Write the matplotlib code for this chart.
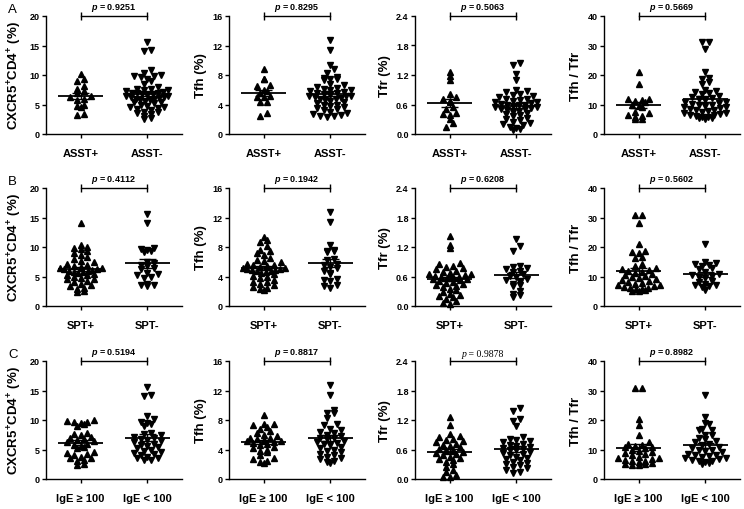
import matplotlib
matplotlib.use("Agg")
import matplotlib.pyplot as plt
import numpy as np

plt.rcParams["font.family"] = ["Liberation Sans", "DejaVu Sans"]
plt.rcParams["font.weight"] = "bold"
plt.rcParams["mathtext.fontset"] = "custom"
plt.rcParams["mathtext.rm"] = "Liberation Sans:bold"
plt.rcParams["mathtext.it"] = "Liberation Sans:bold:italic"
plt.rcParams["mathtext.bf"] = "Liberation Sans:bold"
plt.rcParams["axes.linewidth"] = 1.0

# ---- labels ----
row_letters = ["A", "B", "C"]
row_groups = [["ASST+", "ASST-"], ["SPT+", "SPT-"], ["IgE \u2265 100", "IgE < 100"]]
col_ylabels = ["CXCR5$^{+}$CD4$^{+}$ (%)", "Tfh (%)", "Tfr (%)", "Tfh / Tfr"]
col_ymax = [20, 16, 2.4, 40]
col_yticks = [[0, 5, 10, 15, 20], [0, 4, 8, 12, 16],
              [0.0, 0.6, 1.2, 1.8, 2.4], [0, 10, 20, 30, 40]]
col_ytick_fmt = ["{:.0f}", "{:.0f}", "{:.1f}", "{:.0f}"]
p_values = [["0.9251", "0.8295", "0.5063", "0.5669"],
            ["0.4112", "0.1942", "0.6208", "0.5602"],
            ["0.5194", "0.8817", "0.9878", "0.8982"]]

# ---- row A: ASST+ / ASST- ----
cxcr5_asst_pos = [10.2, 9.3, 9.0, 8.2, 7.6, 7.3, 7.0, 6.4, 6.2, 6.0, 5.8, 5.0, 4.7, 4.5, 3.4, 3.2]
cxcr5_asst_neg = [15.6, 14.3, 14.1, 10.8, 10.3, 10.0, 9.9, 9.8, 9.6, 9.4, 9.0, 8.4, 8.0, 7.7,
                  7.6, 7.5, 7.3, 7.1, 7.0, 6.9, 6.8, 6.7, 6.6, 6.5, 6.4, 6.2, 6.1, 6.0, 5.9,
                  5.8, 5.7, 5.6, 5.4, 5.2, 5.0, 4.8, 4.6, 4.5, 4.4, 4.2, 4.0, 3.8, 3.7, 3.5,
                  3.4, 3.0, 2.7, 2.5, 6.3, 6.9, 5.5, 7.4]
tfh_asst_pos = [8.8, 7.5, 7.4, 6.6, 6.5, 6.0, 5.8, 5.5, 5.2, 5.0, 5.0, 4.4, 4.3, 2.8, 2.5]
tfh_asst_neg = [12.7, 11.4, 9.4, 8.8, 8.3, 7.7, 7.6, 7.5, 7.4, 7.3, 6.8, 6.6, 6.4, 6.2, 6.0,
                5.9, 5.8, 5.7, 5.5, 5.4, 5.3, 5.2, 5.1, 5.0, 4.9, 4.8, 4.7, 4.5, 4.4, 4.2,
                4.0, 3.9, 3.8, 3.6, 3.5, 3.4, 3.2, 3.0, 2.8, 2.7, 2.6, 2.5, 2.4, 2.3,
                5.6, 5.2, 4.6, 6.1]
tfr_asst_pos = [1.26, 1.18, 1.10, 0.82, 0.75, 0.72, 0.68, 0.65, 0.55, 0.50, 0.42, 0.40,
                0.38, 0.30, 0.22, 0.15]
tfr_asst_neg = [1.45, 1.40, 1.22, 1.10, 0.90, 0.88, 0.85, 0.82, 0.80, 0.78, 0.75, 0.72,
                0.70, 0.68, 0.65, 0.63, 0.62, 0.60, 0.58, 0.56, 0.55, 0.52, 0.50, 0.48,
                0.47, 0.45, 0.42, 0.40, 0.38, 0.36, 0.33, 0.30, 0.28, 0.25, 0.22, 0.20,
                0.18, 0.15, 0.12, 0.10, 0.09, 0.60, 0.66, 0.54, 0.72, 0.50]
ratio_asst_pos = [21, 17, 12, 11.8, 11.5, 11.2, 10.8, 10, 9.5, 9, 7.5, 7, 6.5, 6, 5.8, 5.2, 5]
ratio_asst_neg = [31.3, 31.2, 28.7, 21, 19, 18.8, 17.5, 17, 15, 14.5, 14.3, 13.8, 13.5, 13,
                  12.5, 12.2, 12, 11.5, 11, 10.8, 10.5, 10.2, 10, 9.8, 9.5, 9.2, 9, 8.8,
                  8.5, 8.2, 8, 7.8, 7.5, 7.2, 7, 6.8, 6.5, 6.3, 6, 5.8, 5.6, 5.5, 5.3, 5.2]

# ---- row B: SPT+ / SPT- ----
cxcr5_spt_pos = [14.0, 10.4, 10.0, 9.9, 9.6, 9.3, 9.0, 8.6, 8.3, 8.0, 7.6, 7.4, 7.2, 7.0,
                 6.8, 6.6, 6.5, 6.3, 6.2, 6.0, 5.9, 5.8, 5.6, 5.5, 5.3, 5.2, 5.0, 4.8, 4.6,
                 4.5, 4.2, 4.0, 3.8, 3.5, 3.4, 3.1, 2.9, 2.6, 2.3, 6.4, 6.1, 5.7]
cxcr5_spt_neg = [15.6, 14.0, 9.8, 9.6, 9.5, 9.3, 9.2, 7.5, 7.3, 7.0, 6.8, 6.5, 6.2, 5.6,
                 5.4, 5.2, 5.0, 4.8, 3.8, 3.6, 3.5, 3.4]
tfh_spt_pos = [9.3, 8.9, 8.7, 8.2, 7.6, 7.4, 7.2, 6.9, 6.5, 6.3, 6.1, 5.9, 5.7, 5.5, 5.4,
               5.2, 5.1, 5.0, 4.9, 4.8, 4.7, 4.6, 4.5, 4.3, 4.1, 4.0, 3.8, 3.5, 3.3, 3.2,
               3.0, 2.8, 2.6, 2.4, 2.3, 2.2, 5.0, 5.3, 4.9, 5.6]
tfh_spt_neg = [12.7, 11.4, 8.3, 7.6, 7.5, 7.4, 7.3, 6.4, 6.2, 5.7, 5.5, 5.3, 5.1, 4.7, 4.5,
               4.3, 3.7, 3.5, 3.4, 2.9, 2.7, 2.5]
tfr_spt_pos = [1.42, 1.25, 1.17, 0.88, 0.85, 0.82, 0.80, 0.78, 0.75, 0.72, 0.70, 0.68, 0.66,
               0.64, 0.62, 0.60, 0.58, 0.56, 0.54, 0.52, 0.50, 0.48, 0.46, 0.44, 0.42, 0.40,
               0.38, 0.35, 0.32, 0.28, 0.25, 0.22, 0.20, 0.18, 0.15, 0.10, 0.06, 0.05,
               0.60, 0.55, 0.65]
tfr_spt_neg = [1.36, 1.22, 1.12, 0.82, 0.80, 0.78, 0.75, 0.72, 0.70, 0.65, 0.62, 0.60, 0.55,
               0.52, 0.48, 0.45, 0.42, 0.40, 0.30, 0.25, 0.22, 0.18]
ratio_spt_pos = [31, 30.8, 28.2, 21, 18.5, 18.2, 17.8, 16.5, 16.3, 14.2, 13.5, 13, 12.5, 12.2,
                 12, 11.5, 11.2, 11, 10.5, 10.2, 10, 9.5, 9, 8.8, 8.5, 8, 7.8, 7.5, 7.2, 7,
                 6.8, 6.5, 6.2, 6, 5.8, 5.6, 5.4, 5.2, 5]
ratio_spt_neg = [21, 15, 14.5, 14.2, 13.8, 13.5, 12.8, 12.5, 11.5, 11, 10.5, 10.2, 9.8, 9.5,
                 8.5, 8, 7.5, 7.2, 7, 6.8, 6.5, 5.5]

# ---- row C: IgE >= 100 / IgE < 100 ----
cxcr5_ige_hi = [10.0, 9.8, 9.7, 9.6, 9.5, 9.3, 9.0, 7.8, 7.6, 7.5, 7.2, 7.0, 6.8, 6.6, 6.4,
                6.2, 6.0, 5.8, 5.6, 5.5, 5.2, 4.6, 4.4, 4.2, 4.0, 3.8, 3.6, 3.5, 3.3, 3.0,
                2.6, 2.3]
cxcr5_ige_lo = [15.6, 14.3, 14.1, 10.7, 10.2, 9.7, 9.5, 9.3, 9.0, 7.8, 7.6, 7.4, 7.2, 7.0,
                6.8, 6.6, 6.4, 6.2, 6.0, 5.8, 5.6, 5.4, 5.2, 5.0, 4.8, 4.6, 4.4, 4.2, 4.0,
                3.8, 3.6, 3.5, 3.3, 3.2]
tfh_ige_hi = [8.7, 7.5, 7.4, 7.3, 7.1, 6.8, 6.5, 6.3, 6.0, 5.8, 5.6, 5.5, 5.4, 5.3, 5.2,
              5.1, 5.0, 4.9, 4.8, 4.6, 4.4, 4.2, 4.0, 3.8, 3.6, 3.2, 2.9, 2.7, 2.5, 2.3, 2.2]
tfh_ige_lo = [12.7, 11.4, 9.4, 9.0, 8.9, 8.3, 7.4, 7.3, 6.8, 6.6, 6.4, 6.2, 6.0, 5.8, 5.6,
              5.5, 5.4, 5.2, 5.0, 4.9, 4.8, 4.6, 4.4, 4.2, 4.0, 3.8, 3.6, 3.4, 3.2, 3.0,
              2.9, 2.7, 2.5, 2.3, 2.2]
tfr_ige_hi = [1.26, 1.10, 0.92, 0.88, 0.85, 0.82, 0.80, 0.78, 0.76, 0.72, 0.70, 0.68, 0.65,
              0.62, 0.60, 0.58, 0.55, 0.52, 0.50, 0.48, 0.45, 0.42, 0.40, 0.38, 0.35, 0.30,
              0.25, 0.18, 0.15, 0.08, 0.05, 0.04]
tfr_ige_lo = [1.45, 1.38, 1.22, 1.18, 1.08, 0.85, 0.82, 0.80, 0.78, 0.75, 0.72, 0.70, 0.68,
              0.66, 0.64, 0.62, 0.60, 0.58, 0.55, 0.52, 0.50, 0.48, 0.45, 0.42, 0.40, 0.38,
              0.35, 0.32, 0.30, 0.28, 0.25, 0.22, 0.18, 0.15, 0.12]
ratio_ige_hi = [30.9, 30.8, 20.5, 18.2, 14.8, 12.5, 12, 11.5, 11.2, 11, 10.8, 10.5, 10, 9.5,
                9, 8.8, 8.5, 8, 7.5, 7.2, 7, 6.8, 6.5, 6.2, 6, 5.8, 5.5, 5.2, 5, 4.9, 4.8]
ratio_ige_lo = [28.5, 21, 19, 18.5, 17, 16.5, 16.5, 15, 14.8, 14, 13.5, 13, 12.5, 12, 11.5,
                11, 10.5, 10, 9.8, 9.5, 9, 8.5, 8.2, 8, 7.8, 7.5, 7.2, 7, 6.8, 6.5, 6.2, 6,
                5.8, 5.5, 5.2]

panel_data = [
    [(cxcr5_asst_pos, cxcr5_asst_neg), (tfh_asst_pos, tfh_asst_neg),
     (tfr_asst_pos, tfr_asst_neg), (ratio_asst_pos, ratio_asst_neg)],
    [(cxcr5_spt_pos, cxcr5_spt_neg), (tfh_spt_pos, tfh_spt_neg),
     (tfr_spt_pos, tfr_spt_neg), (ratio_spt_pos, ratio_spt_neg)],
    [(cxcr5_ige_hi, cxcr5_ige_lo), (tfh_ige_hi, tfh_ige_lo),
     (tfr_ige_hi, tfr_ige_lo), (ratio_ige_hi, ratio_ige_lo)],
]

FIG_W, FIG_H = 744, 510
AX_W, AX_H = 136, 118
col_left_px = [46, 229, 415, 604]
row_bottom_px = [135, 307, 480]
XLIM = (0.48, 2.52)


def binned_offsets(values, ymax, row_h=5.5, step=6.8, max_half=21.0):
    """GraphPad-style scatter: points grouped in rows, each row centred."""
    px_per_x = AX_W / (XLIM[1] - XLIM[0])
    vals = np.asarray(values, dtype=float)
    bins = np.floor(vals / ymax * AX_H / row_h).astype(int)
    offs = np.zeros(len(vals))
    for b in np.unique(bins):
        idx = np.where(bins == b)[0]
        idx = idx[np.argsort(vals[idx])]
        n = len(idx)
        if n == 1:
            continue
        s = min(step, 2 * max_half / (n - 1))
        pos = (np.arange(n) - (n - 1) / 2) * s
        order = np.argsort(np.abs(pos) + 0.01 * np.sign(pos), kind="stable")
        offs[idx] = pos[order] / px_per_x
    return offs


fig = plt.figure(figsize=(FIG_W / 100, FIG_H / 100), dpi=100)

for r in range(3):
    for c in range(4):
        ax = fig.add_axes([col_left_px[c] / FIG_W, 1 - row_bottom_px[r] / FIG_H,
                           AX_W / FIG_W, AX_H / FIG_H])
        ymax = col_ymax[c]
        for g, (vals, marker) in enumerate(zip(panel_data[r][c], ["^", "v"])):
            xpos = g + 1
            vals = np.asarray(vals, dtype=float)
            xs = xpos + binned_offsets(vals, ymax)
            ax.plot(xs, vals, linestyle="none", marker=marker, ms=4.6,
                    color="black", clip_on=False, zorder=3)
            mean = vals.mean()
            sem = vals.std(ddof=1) / np.sqrt(len(vals))
            ax.hlines(mean, xpos - 0.34, xpos + 0.34, color="black", lw=1.3, zorder=4)
            ax.vlines(xpos, mean - sem, mean + sem, color="black", lw=1.0, zorder=4)
            ax.hlines([mean - sem, mean + sem], xpos - 0.13, xpos + 0.13,
                      color="black", lw=1.0, zorder=4)

        # significance bracket
        tick = ymax * 0.03
        ax.plot([1, 2], [ymax, ymax], color="black", lw=1.0, clip_on=False)
        ax.vlines([1, 2], ymax - tick, ymax + tick, color="black", lw=1.0, clip_on=False)
        if r == 2 and c == 2:
            serif = ["Liberation Serif", "DejaVu Serif"]
            t_rest = ax.text(1.53, ymax + tick * 0.8, " = " + p_values[r][c], ha="center",
                             va="bottom", fontsize=7, fontweight="normal", family=serif)
            ax.annotate("p", xy=(0, 0), xycoords=t_rest, ha="right", va="bottom",
                        fontsize=7, fontweight="normal", fontstyle="italic", family=serif)
        else:
            ax.text(1.5, ymax + tick * 0.8, "$p$ = " + p_values[r][c], ha="center",
                    va="bottom", fontsize=6.5, fontweight="bold")

        ax.set_xlim(*XLIM)
        ax.set_ylim(0, ymax)
        ax.set_xticks([1, 2])
        ax.set_xticklabels(row_groups[r], fontsize=8, fontweight="bold")
        ax.set_yticks(col_yticks[c])
        ax.set_yticklabels([col_ytick_fmt[c].format(t) for t in col_yticks[c]],
                           fontsize=6.5, fontweight="bold")
        ax.tick_params(axis="x", length=3, width=1.0, pad=7)
        ax.tick_params(axis="y", length=3, width=1.0, pad=1.5)
        ax.set_ylabel(col_ylabels[c], fontsize=9.5, fontweight="bold", labelpad=4)
        ax.spines["top"].set_visible(False)
        ax.spines["right"].set_visible(False)

    fig.text(8 / FIG_W, 1 - (row_bottom_px[r] - AX_H - 7) / FIG_H, row_letters[r],
             fontsize=9.5, fontweight="normal", va="center", ha="left")

fig.savefig("out.png", dpi=100)
